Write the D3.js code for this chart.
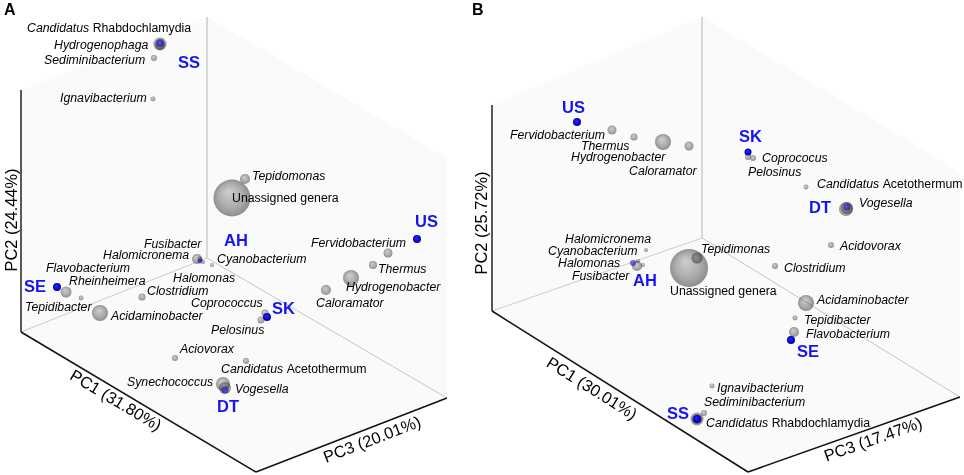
<!DOCTYPE html>
<html><head><meta charset="utf-8">
<script src="https://cdn.jsdelivr.net/npm/d3@7"></script>
<style>html,body{margin:0;padding:0;background:#fff}svg{display:block;font-family:"Liberation Sans",Arial,sans-serif}</style>
</head><body><svg id="c" width="964" height="475"></svg>
<script>
// Projected ordination scores: [genus, horizontal, vertical, relative abundance]
const generaA = [
 ["Candidatus Rhabdochlamydia",139,428,11.7],["Hydrogenophaga",139,427,6.9],["Sediminibacterium",133,414,2.5],
 ["Ignavibacterium",132,373,1.7],["Unassigned genera",211,274,95],["Tepidomonas",224,293,6.9],
 ["Fusibacter",176,213,6.9],["Halomicronema",179,213,1.7],["Halomonas",182,210,1.1],["Cyanobacterium",191,207,1.1],
 ["Flavobacterium",45,180,8.4],["Rheinheimera",60,174,1.7],["Clostridium",121,175,3.4],
 ["Acidaminobacter",79,159,17.7],["Coprococcus",244,159,3.4],["Pelosinus",240,152,3.4],["Acidovorax",154,114,2.5],
 ["Candidatus Acetothermum",225,111,2.5],["Synechococcus",202,88,13.6],["Vogesella",204,84,10],
 ["Fervidobacterium",367,219,5.6],["Thermus",352,207,4.4],["Hydrogenobacter",330,194,17.7],["Caloramator",305,182,6.9]
];
const generaB = [
 ["Candidatus Rhabdochlamydia",205,53,11.7],["Hydrogenophaga",205,53,6.9],["Sediminibacterium",212,59,2.5],
 ["Ignavibacterium",220,86,1.7],["Unassigned genera",197,204,100],["Tepidimonas",205,214,8.4],
 ["Fusibacter",145,206,6.9],["Halomicronema",146,211,1.1],["Halomonas",151,207,1.1],["Cyanobacterium",154,222,1.1],
 ["Flavobacterium",302,140,6.9],["Tepidibacter",303,154,1.7],["Clostridium",283,206,2.5],["Acidaminobacter",314,169,17.7],
 ["Coprococcus",261,314,2.5],["Pelosinus",256,315,2.5],["Acidovorax",339,227,2.5],["Candidatus Acetothermum",314,285,1.7],
 ["Synechococcus",354,263,13.6],["Vogesella",355,264,10],
 ["Fervidobacterium",120,342,5.6],["Thermus",142,335,3.4],["Hydrogenobacter",171,330,17.7],["Caloramator",197,326,5.6]
];
// Sample scores: [site, horizontal, vertical, size, seen through genera?]
const samplesA = [["SS",139,429,4.4,1],["AH",179,211,1.7,1],["SE",36,185,4.4,0],["SK",246,155,4.4,0],["DT",204,82,3.4,1],["US",396,233,4.4,0]];
const samplesB = [["US",85,350,4.4,0],["SK",256,320,3.4,0],["DT",355,265,3.4,1],["AH",141,209,2.5,1],["SE",299,132,4.4,0],["SS",205,53,4.4,0]];
// Text anchors, in the same score units
const generaLabelsA = [
 ["Candidatus Rhabdochlamydia",6,444],["Hydrogenophaga",33,427],["Sediminibacterium",23,412],["Ignavibacterium",39,374],
 ["Tepidomonas",231,296],["Unassigned genera",211,274],["Fusibacter",123,228],["Halomicronema",82,217],["Cyanobacterium",196,213],
 ["Flavobacterium",25,204],["Rheinheimera",48,191],["Halomonas",152,194],["Clostridium",126,181],["Coprococcus",170,169],
 ["Tepidibacter",4,165],["Acidaminobacter",90,156],["Pelosinus",190,142],["Aciovorax",159,123],["Candidatus Acetothermum",200,103],
 ["Synechococcus",106,90],["Vogesella",214,83],["Fervidobacterium",290,229],["Thermus",357,203],["Hydrogenobacter",325,185],["Caloramator",295,169]
];
const generaLabelsB = [
 ["Fervidobacterium",18,337],["Thermus",89,326],["Hydrogenobacter",79,315],["Caloramator",137,301],["Coprococus",270,314],
 ["Pelosinus",256,300],["Candidatus Acetothermum",325,288],["Vogesella",367,269],["Acidovorax",348,226],["Clostridium",292,204],
 ["Halomicronema",73,233],["Cyanobacterium",56,221],["Halomonas",66,209],["Fusibacter",80,196],["Tepidimonas",209,223],
 ["Unassigned genera",178,181],["Ignavibacterium",225,84],["Sediminibacterium",212,70],["Candidatus Rhabdochlamydia",214,49],
 ["Acidaminobacter",325,172],["Tepidibacter",312,152],["Flavobacterium",314,138]
];
const sampleLabelsA = [["SS",157,410],["AH",203,232],["SE",3,186],["SK",251,164],["DT",196,66],["US",394,251]];
const sampleLabelsB = [["US",70,365],["SK",247,336],["DT",317,265],["AH",141,192],["SE",305,121],["SS",175,59]];
// Box corners: topLeft, top, topRight, bottomRight, bottom, bottomLeft, back
const boxA = [[0,382],[186,455],[426,314],[426,74],[235,0],[0,140],[186,214]];
const boxB = [[0,367],[210,455],[468,300],[468,75],[256,0],[0,161],[210,234]];
const axisTitlesA = ["PC1 (31.80%)","PC2 (24.44%)","PC3 (20.01%)"];
const axisTitlesB = ["PC1 (30.01%)","PC2 (25.72%)","PC3 (17.47%)"];

const svg = d3.select("#c");
const defs = svg.append("defs");
function grad(id, stops){
  const g = defs.append("radialGradient").attr("id",id).attr("cx","50%").attr("cy","50%").attr("r","52%").attr("fx","40%").attr("fy","32%");
  stops.forEach(s=>g.append("stop").attr("offset",s[0]).attr("stop-color",s[1]));
}
grad("gray",[["0%","#d2d2d2"],["60%","#b2b2b2"],["100%","#8e8e8e"]]);
grad("blue",[["0%","#2a2aff"],["65%","#0808e8"],["100%","#04046a"]]);

const size = d3.scaleSqrt().domain([0,100]).range([0,19]);

function panel(cfg){
  const x = d3.scaleLinear().domain(cfg.xDomain).range(cfg.xRange);
  const y = d3.scaleLinear().domain([0,455]).range([472,17]);
  const P = i => [x(cfg.box[i][0]), y(cfg.box[i][1])];
  const g = svg.append("g");
  g.append("polygon").attr("points",[0,1,2,3,4,5].map(i=>P(i).join(",")).join(" ")).attr("fill","#fafafa");
  const line = (a,b,c,w)=>g.append("line").attr("x1",P(a)[0]).attr("y1",P(a)[1]).attr("x2",P(b)[0]).attr("y2",P(b)[1]).attr("stroke",c).attr("stroke-width",w);
  line(1,6,"#cfcfcf",1.6); line(6,5,"#cdcdcd",1); line(6,3,"#c4c4c4",1);
  line(0,5,"#222",1.5); line(5,4,"#111",1.5); line(4,3,"#111",1.5);

  const circ = (d,fill,op,blend)=>g.append("circle").attr("cx",x(d[1])).attr("cy",y(d[2])).attr("r",size(d[3])).attr("fill",`url(#${fill})`).attr("opacity",op).style("mix-blend-mode",blend);
  cfg.genera.forEach(d=>circ(d,"gray",1,"multiply"));
  cfg.samples.forEach(s=>circ(s,"blue",s[4]?0.6:1,"normal"));

  cfg.generaLabels.forEach(l=>{
    const t = g.append("text").attr("x",x(l[1])).attr("y",y(l[2])).attr("dy","0.36em").attr("font-size",cfg.fs).attr("fill","#000");
    if(l[0].startsWith("Candidatus ")){
      t.append("tspan").attr("font-style","italic").text("Candidatus ");
      t.append("tspan").text(l[0].slice(11));
    } else t.attr("font-style", l[0]==="Unassigned genera"?"normal":"italic").text(l[0]);
  });
  cfg.sampleLabels.forEach(l=>g.append("text").attr("x",x(l[1])).attr("y",y(l[2])).attr("dy","0.36em")
    .attr("font-size",16.5).attr("font-weight","bold").attr("fill","#1414f0").text(l[0]));
  cfg.titles.forEach((t,i)=>{
    const p = cfg.titlePos[i];
    g.append("text").attr("transform",`translate(${p[0]},${p[1]}) rotate(${p[2]})`).attr("text-anchor","middle").attr("dy","0.36em")
      .attr("font-size",16.4).attr("fill","#000").text(t);
  });
  g.append("text").attr("x",cfg.letter[0]).attr("y",cfg.letter[1]).attr("font-size",16).attr("font-weight","bold").attr("fill","#000").text(cfg.letter[2]);
}
panel({xDomain:[0,426],xRange:[21,447],box:boxA,genera:generaA,samples:samplesA,generaLabels:generaLabelsA,sampleLabels:sampleLabelsA,
  titles:axisTitlesA,titlePos:[[116,400,31],[11,220,-90],[372,439,-21]],letter:[4,15,"A"],fs:12.3});
panel({xDomain:[0,468],xRange:[492,960],box:boxB,genera:generaB,samples:samplesB,generaLabels:generaLabelsB,sampleLabels:sampleLabelsB,
  titles:axisTitlesB,titlePos:[[592,388,32],[481,223,-90],[873,439,-19.5]],letter:[472,15,"B"],fs:12.3});
</script></body></html>
